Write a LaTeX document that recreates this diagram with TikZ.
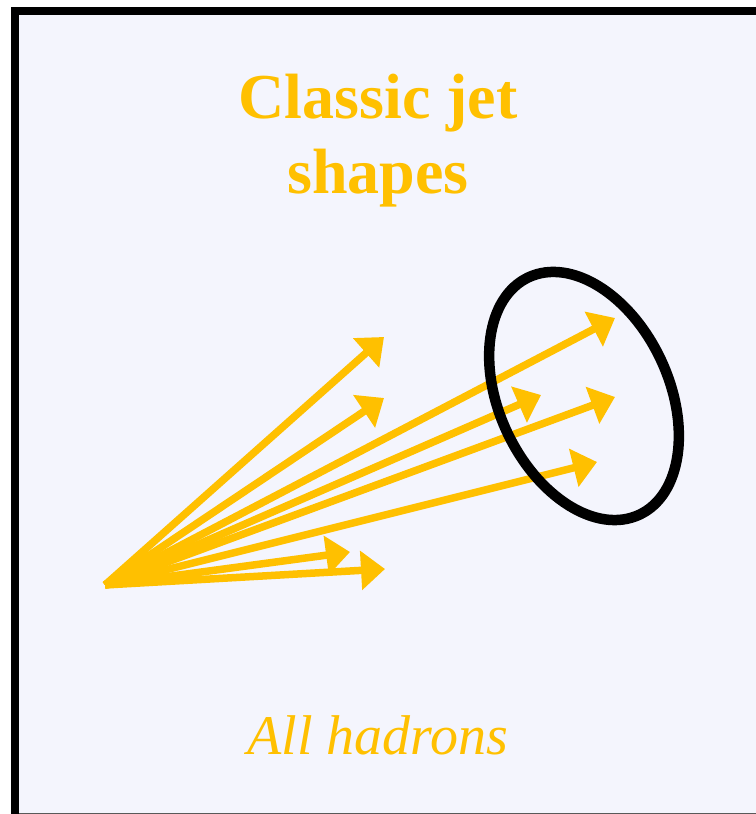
\documentclass[tikz,border=0pt]{standalone}
\usepackage{fontspec}
\setmainfont{Liberation Serif}
\usetikzlibrary{arrows.meta}
\definecolor{jetgold}{HTML}{FFC000}
\definecolor{panelbg}{HTML}{F4F5FD}
\definecolor{rimgray}{HTML}{595959}
\tikzset{
  hadron/.style={line width=7.5bp,draw=jetgold,-{Triangle[length=24bp,width=38bp]}},
  conering/.style={line width=10.5bp,draw=black},
}
\begin{document}
\begin{tikzpicture}[x=1bp,y=1bp,line cap=butt,line join=miter]
  \useasboundingbox (0,0) rectangle (756,814);
  \fill[panelbg] (19,1) rectangle (756,799);
  \fill[black] (11,0) rectangle (19,807);
  \fill[black] (11,799) rectangle (756,807);
  \fill[rimgray] (19,0) rectangle (756,1);
  \node[text=jetgold,font=\fontsize{64bp}{75bp}\selectfont\bfseries,align=center,inner sep=0pt]
    (title) at (378,673) {Classic jet\\shapes};
  \node[text=jetgold,font=\fontsize{56bp}{60bp}\selectfont\itshape,anchor=base,inner sep=0pt]
    (caption) at (378,59) {All hadrons};
  \coordinate (origin) at (105,229);
  \coordinate (t1) at (384,477);
  \coordinate (t2) at (384,416);
  \coordinate (t3) at (615,496);
  \coordinate (t4) at (541,419);
  \coordinate (t5) at (615,417);
  \coordinate (t6) at (597,352);
  \coordinate (t7) at (350,262);
  \coordinate (t8) at (385,245);
  \foreach \n in {t1,t2,t3,t4,t5,t6,t7,t8}
    \draw[hadron] (origin) -- (\n);
  \draw[conering] (584,418) ellipse[x radius=85,y radius=131,rotate=25];
\end{tikzpicture}
\end{document}
